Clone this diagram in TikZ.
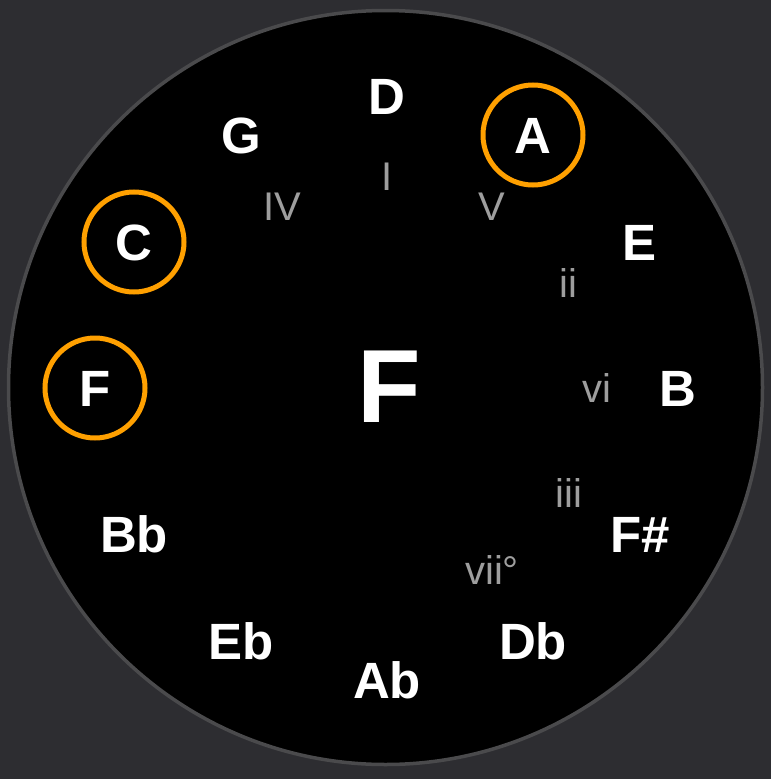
\documentclass[tikz,border=0pt]{standalone}
\usepackage{fontspec}
\setmainfont{Liberation Sans}
\usetikzlibrary{calc}
\definecolor{bgc}{RGB}{45,45,49}
\definecolor{rimc}{RGB}{74,74,76}
\definecolor{ringc}{RGB}{255,160,0}
\definecolor{numc}{RGB}{158,158,158}
\tikzset{
  note/.style={font=\fontsize{51}{51}\selectfont\bfseries, text=white, inner sep=0pt, text height=36.5pt, text depth=0pt},
  key/.style={font=\fontsize{104}{104}\selectfont\bfseries, text=white, inner sep=0pt, text height=74.5pt, text depth=0pt},
  numeral/.style={font=\fontsize{40}{40}\selectfont, text=numc, inner sep=0pt, text height=28.6pt, text depth=0pt},
  ring/.style={draw=ringc, line width=5pt},
}
\begin{document}
\begin{tikzpicture}[x=1pt,y=-1pt]
\fill[bgc] (0,0) rectangle (771,779);
\useasboundingbox (0,0) rectangle (771,779);
\draw[rimc, line width=3.5pt, fill=black] (385.5,387.5) circle[radius=377];
\coordinate (O) at (387,388);
% notes on the circle of fifths
\node[note] (nD)  at ($(O)+(0,-292)$) {D};
\node[note] (nA)  at ($(O)+(146,-253)$) {A};
\node[note] (nE)  at ($(O)+(253,-146)$) {E};
\node[note] (nB)  at ($(O)+(291,0)$) {B};
\node[note] (nFs) at ($(O)+(253,146)$) {F\#};
\node[note] (nDb) at ($(O)+(146,253)$) {Db};
\node[note] (nAb) at ($(O)+(0,292)$) {Ab};
\node[note] (nEb) at ($(O)+(-146,253)$) {Eb};
\node[note] (nBb) at ($(O)+(-253,146)$) {Bb};
\node[note] (nF)  at ($(O)+(-292,0)$) {F};
\node[note] (nC)  at ($(O)+(-253,-146)$) {C};
\node[note] (nG)  at ($(O)+(-146,-253)$) {G};
% key
\node[key] (key) at (389,385) {F};
% degrees
\node[numeral] (dIV)  at ($(O)+(-105,-182)$) {IV};
\node[numeral] (dI)   at ($(O)+(0,-212)$) {I};
\node[numeral] (dV)   at ($(O)+(105,-182)$) {V};
\node[numeral] (dii)  at ($(O)+(181,-105)$) {ii};
\node[numeral] (dvi)  at ($(O)+(210,0)$) {vi};
\node[numeral] (diii) at ($(O)+(182,105)$) {iii};
\node[numeral] (dvii) at ($(O)+(105,182)$) {vii°};
% highlighted triad
\draw[ring] (nA.center) circle[radius=50];
\draw[ring] (nC.center) circle[radius=50];
\draw[ring] (nF.center) circle[radius=50];
\end{tikzpicture}
\end{document}
